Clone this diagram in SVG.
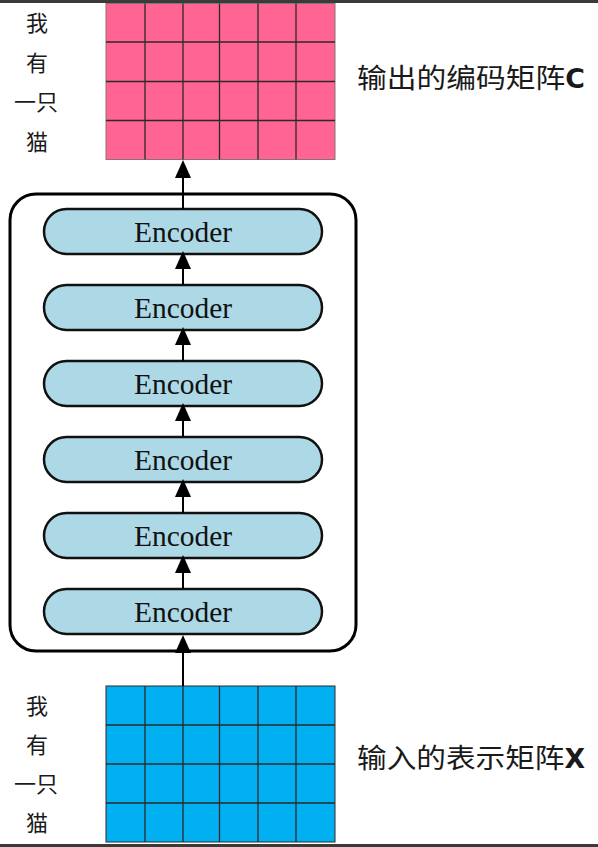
<svg xmlns="http://www.w3.org/2000/svg" width="598" height="847" viewBox="0 0 598 847">
<defs>
<style>
.cjk{font-family:"Noto Sans CJK SC","Noto Sans",sans-serif;fill:#1a1a1a}
.lbl{font-size:22px;text-anchor:middle}
.big{font-size:27px}
.lat{font-family:"DejaVu Sans Condensed","DejaVu Sans",sans-serif;font-weight:bold}
.enc rect{fill:#add8e6;stroke:#111;stroke-width:2.5}
.enc text{font-family:"Liberation Serif","Times New Roman",serif;font-size:28.5px;fill:#111;text-anchor:middle}
.grid line{stroke:#2a2a2a;stroke-width:1.3}
.conn line{stroke:#000;stroke-width:2;marker-end:url(#ah)}
</style>
<marker id="ah" viewBox="0 0 18 16" refX="12" refY="8" markerWidth="18" markerHeight="16" markerUnits="userSpaceOnUse" orient="auto">
<path d="M0,0 L18,8 L0,16 z" fill="#000"/>
</marker>
</defs>
<rect x="0" y="0" width="598" height="847" fill="#fff"/>
<rect x="0" y="0" width="598" height="3" fill="#3a3a3a"/>
<rect x="0" y="844" width="598" height="3" fill="#3a3a3a"/>

<g id="output-matrix" class="grid">
<rect x="106" y="3.5" width="229" height="156" fill="#ff6492" stroke="#8a7078" stroke-width="1"/>
<line x1="145" y1="3.5" x2="145" y2="159.5"/><line x1="183" y1="3.5" x2="183" y2="159.5"/><line x1="219.5" y1="3.5" x2="219.5" y2="159.5"/><line x1="258" y1="3.5" x2="258" y2="159.5"/><line x1="296" y1="3.5" x2="296" y2="159.5"/>
<line x1="106" y1="42" x2="335" y2="42"/><line x1="106" y1="81.5" x2="335" y2="81.5"/><line x1="106" y1="120.5" x2="335" y2="120.5"/>
</g>
<g id="output-tokens" class="cjk lbl">
<text x="37" y="31">我</text><text x="37" y="71">有</text><text x="36" y="110">一只</text><text x="37" y="150">猫</text>
</g>
<g id="output-label"><text class="cjk big" x="357" y="88" textLength="228" lengthAdjust="spacingAndGlyphs">输出的编码矩阵<tspan class="lat">C</tspan></text></g>

<g id="encoder-stack"><rect x="10" y="194" width="346" height="457" rx="26" fill="none" stroke="#000" stroke-width="3"/></g>

<g id="encoder-6" class="enc"><rect x="44" y="209" width="278" height="45" rx="22.5"/><text x="183" y="241.5" textLength="98" lengthAdjust="spacingAndGlyphs">Encoder</text></g>
<g id="encoder-5" class="enc"><rect x="44" y="285" width="278" height="45" rx="22.5"/><text x="183" y="317.5" textLength="98" lengthAdjust="spacingAndGlyphs">Encoder</text></g>
<g id="encoder-4" class="enc"><rect x="44" y="361" width="278" height="45" rx="22.5"/><text x="183" y="393.5" textLength="98" lengthAdjust="spacingAndGlyphs">Encoder</text></g>
<g id="encoder-3" class="enc"><rect x="44" y="437" width="278" height="45" rx="22.5"/><text x="183" y="469.5" textLength="98" lengthAdjust="spacingAndGlyphs">Encoder</text></g>
<g id="encoder-2" class="enc"><rect x="44" y="513" width="278" height="45" rx="22.5"/><text x="183" y="545.5" textLength="98" lengthAdjust="spacingAndGlyphs">Encoder</text></g>
<g id="encoder-1" class="enc"><rect x="44" y="589" width="278" height="45" rx="22.5"/><text x="183" y="621.5" textLength="98" lengthAdjust="spacingAndGlyphs">Encoder</text></g>

<g id="input-matrix" class="grid">
<rect x="106" y="686" width="229" height="156" fill="#00b0f0" stroke="#2a2a2a" stroke-width="1"/>
<line x1="145" y1="686" x2="145" y2="842"/><line x1="183" y1="686" x2="183" y2="842"/><line x1="219.5" y1="686" x2="219.5" y2="842"/><line x1="258" y1="686" x2="258" y2="842"/><line x1="296" y1="686" x2="296" y2="842"/>
<line x1="106" y1="725" x2="335" y2="725"/><line x1="106" y1="764" x2="335" y2="764"/><line x1="106" y1="803" x2="335" y2="803"/>
</g>
<g id="input-tokens" class="cjk lbl">
<text x="37" y="714">我</text><text x="37" y="753">有</text><text x="36" y="792">一只</text><text x="37" y="831">猫</text>
</g>
<g id="input-label"><text class="cjk big" x="357" y="768" textLength="228" lengthAdjust="spacingAndGlyphs">输入的表示矩阵<tspan class="lat">X</tspan></text></g>

<g id="connectors" class="conn">
<line x1="183" y1="686" x2="183" y2="641"/>
<line x1="183" y1="589" x2="183" y2="561"/>
<line x1="183" y1="513" x2="183" y2="485"/>
<line x1="183" y1="437" x2="183" y2="409"/>
<line x1="183" y1="361" x2="183" y2="333"/>
<line x1="183" y1="285" x2="183" y2="257"/>
<line x1="183" y1="209" x2="183" y2="166"/>
</g>
</svg>
